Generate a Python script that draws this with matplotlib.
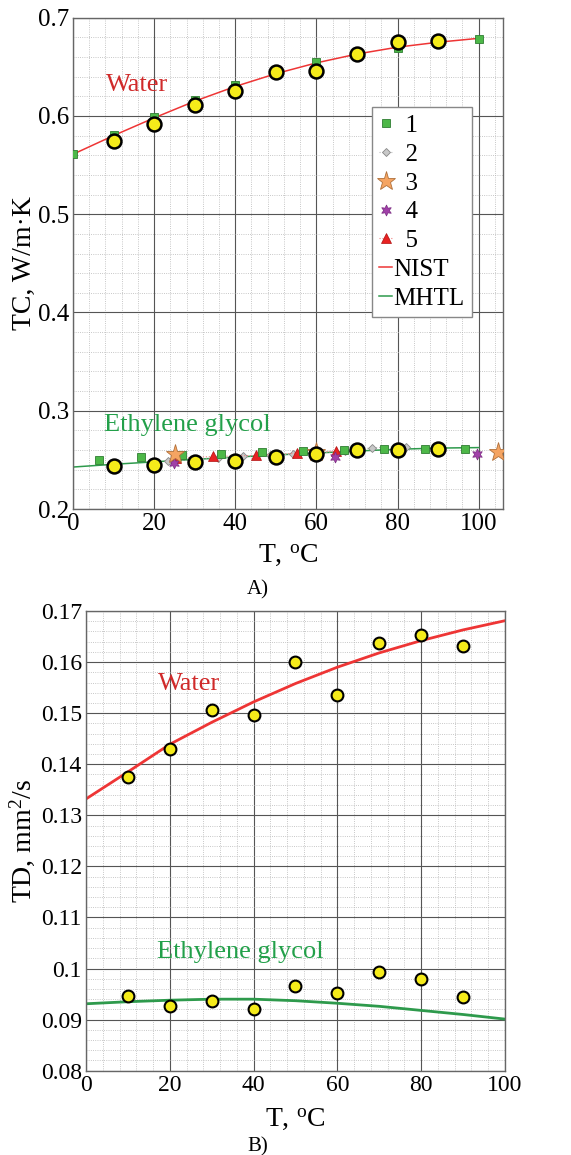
import matplotlib
matplotlib.use("Agg")
import matplotlib.pyplot as plt
from matplotlib.ticker import MultipleLocator, FuncFormatter

plt.rcParams['font.family'] = ['Liberation Serif', 'DejaVu Serif']
plt.rcParams['mathtext.fontset'] = 'custom'
plt.rcParams['mathtext.rm'] = 'Liberation Serif'
plt.rcParams['mathtext.it'] = 'Liberation Serif:italic'

# ---- Panel A: thermal conductivity ----
t_line = [0, 10, 20, 30, 40, 50, 60, 70, 80, 90, 100]
tc_nist_water = [0.561, 0.580, 0.598, 0.615, 0.630, 0.643, 0.654, 0.663, 0.670, 0.675, 0.679]
tc_mhtl_eg = [0.2427, 0.2455, 0.2480, 0.2505, 0.2528, 0.2550, 0.2570, 0.2590, 0.2608, 0.2620, 0.2625]

t_sq_water = [0, 10, 20, 30, 40, 50, 60, 70, 80, 90, 100]
tc_sq_water = [0.561, 0.5807, 0.5987, 0.6163, 0.6315, 0.643, 0.6546, 0.663, 0.6695, 0.675, 0.6783]
t_sq_eg = [6.5, 16.7, 26.8, 36.6, 46.7, 56.6, 66.9, 76.7, 86.7, 96.7]
tc_sq_eg = [0.2502, 0.2528, 0.2545, 0.2558, 0.2579, 0.2589, 0.2596, 0.2606, 0.2609, 0.2609]

t_dia = [23.3, 35.8, 41.8, 48.5, 54.3, 61.0, 67.0, 73.6, 82.0]
tc_dia = [0.2492, 0.2515, 0.2538, 0.2545, 0.2559, 0.2575, 0.2589, 0.2623, 0.2636]

t_star = [25.1, 60.0, 104.8]
tc_star = [0.2562, 0.2585, 0.2582]

t_hex = [24.8, 64.7, 99.6]
tc_hex = [0.2472, 0.2528, 0.2556]

t_tri = [25.5, 34.6, 45.0, 55.3, 64.9]
tc_tri = [0.2515, 0.2535, 0.2545, 0.2569, 0.2589]

t_exp = [10, 20, 30, 40, 50, 60, 70, 80, 90]
tc_exp_water = [0.5746, 0.592, 0.611, 0.6257, 0.6444, 0.6458, 0.6627, 0.6756, 0.6766]
tc_exp_eg = [0.2437, 0.2452, 0.2478, 0.2492, 0.2532, 0.2559, 0.2603, 0.2603, 0.2609]

# ---- Panel B: thermal diffusivity ----
td_nist_water = [0.1332, 0.1385, 0.1439, 0.1482, 0.1522, 0.1558, 0.1590, 0.1618, 0.1642, 0.1663, 0.1681]
td_mhtl_eg = [0.0931, 0.0935, 0.0938, 0.0940, 0.0940, 0.0937, 0.0932, 0.0926, 0.0918, 0.0910, 0.0901]
td_exp_water = [0.1375, 0.1430, 0.1507, 0.1496, 0.1601, 0.1536, 0.1637, 0.1653, 0.1631]
td_exp_eg = [0.0946, 0.0927, 0.0936, 0.0921, 0.0965, 0.0952, 0.0994, 0.0979, 0.0944]

legend_labels = ['  1', '  2', '  3', '  4', '  5', 'NIST', 'MHTL']

red_line = '#ee3535'
green_line = '#2e9a4c'
red_text = '#d02a2a'
green_text = '#23a04a'

fig = plt.figure(figsize=(5.71, 11.55), dpi=100)
ax1 = fig.add_axes([0.1278, 0.5593, 0.7532, 0.4254])
ax2 = fig.add_axes([0.1506, 0.0730, 0.7338, 0.3980])


def style_axes(ax, xmax, ymin, ymax, ymaj, ymin_step):
    ax.set_xlim(0, xmax)
    ax.set_ylim(ymin, ymax)
    ax.xaxis.set_major_locator(MultipleLocator(20))
    ax.xaxis.set_minor_locator(MultipleLocator(4))
    ax.yaxis.set_major_locator(MultipleLocator(ymaj))
    ax.yaxis.set_minor_locator(MultipleLocator(ymin_step))
    ax.grid(which='major', color='#555555', linewidth=0.8, linestyle='-')
    ax.grid(which='minor', color='#b5b5b5', linewidth=0.6, linestyle=':')
    ax.set_axisbelow(True)
    ax.tick_params(which='both', length=0, labelsize=18, pad=3)
    for s in ax.spines.values():
        s.set_color('#666666')
        s.set_linewidth(1.0)


# Panel A
style_axes(ax1, 106, 0.2, 0.7, 0.1, 0.02)
ax1.set_xticks([0, 20, 40, 60, 80, 100])
ax1.yaxis.set_major_formatter(FuncFormatter(lambda v, p: f'{v:.1f}'))

sq_style = dict(marker='s', ms=6, mfc='#4db848', mec='#2f7d32', mew=0.6)
dia_style = dict(ls=':', lw=0.8, color='#bbbbbb', marker='D', ms=4.5,
                 mfc='#c8c8c8', mec='#888888', mew=0.6)
star_style = dict(marker='*', ms=14, mfc='#f5a462', mec='#b0703a', mew=0.6)
hex_style = dict(marker=(6, 1, 0), ms=8, mfc='#a040a8', mec='#7a2a80', mew=0.5)
tri_style = dict(ls=':', lw=0.8, color='#f08080', marker='^', ms=7,
                 mfc='#e82222', mec='#b01010', mew=0.5)
circ_style = dict(ls='none', marker='o', mfc='#f5eb1a', mec='black')

ax1.plot(t_line, tc_nist_water, color=red_line, lw=1.1, zorder=2)
ax1.plot(t_line, tc_mhtl_eg, color=green_line, lw=1.1, zorder=2)
ax1.plot(t_dia, tc_dia, zorder=3, **dia_style)
ax1.plot(t_tri, tc_tri, zorder=3, **tri_style)
ax1.plot(t_hex, tc_hex, ls='none', zorder=3, **hex_style)
ax1.plot(t_sq_water + t_sq_eg, tc_sq_water + tc_sq_eg, ls='none', zorder=4, **sq_style)
ax1.plot(t_star, tc_star, ls='none', zorder=4.5, **star_style)
ax1.plot(t_exp, tc_exp_water, ms=10, mew=1.8, zorder=5, **circ_style)
ax1.plot(t_exp, tc_exp_eg, ms=10, mew=1.8, zorder=5, **circ_style)

# legend proxies
h1, = ax1.plot([], [], ls='none', **sq_style)
h2, = ax1.plot([], [], **dia_style)
h3, = ax1.plot([], [], ls='none', **star_style)
h4, = ax1.plot([], [], ls='none', **hex_style)
h5, = ax1.plot([], [], **tri_style)
h6, = ax1.plot([], [], color=red_line, lw=1.1)
h7, = ax1.plot([], [], color=green_line, lw=1.1)
leg = ax1.legend([h1, h2, h3, h4, h5, h6, h7], legend_labels,
                 loc='upper left', bbox_to_anchor=(0.695, 0.818), fontsize=18,
                 handlelength=0.5, handletextpad=0.05, labelspacing=0.25,
                 borderpad=0.3, borderaxespad=0, fancybox=False, framealpha=1,
                 edgecolor='#888888')
leg.get_frame().set_linewidth(1.0)

ax1.text(8.1, 0.6315, 'Water', color=red_text, fontsize=19, va='center', ha='left')
ax1.text(7.6, 0.2855, 'Ethylene glycol', color=green_text, fontsize=19, va='center', ha='left')
ax1.set_ylabel('TC, W/m·K', fontsize=20)
ax1.yaxis.set_label_coords(-0.085, 0.5)
ax1.set_xlabel('T, $^{\\rm o}$C', fontsize=20)
ax1.xaxis.set_label_coords(0.5, -0.068)
fig.text(0.452, 0.489, 'A)', fontsize=15, ha='center', va='center')

# Panel B
style_axes(ax2, 100, 0.08, 0.17, 0.01, 0.002)
ax2.yaxis.set_major_formatter(FuncFormatter(lambda v, p: f'{v:.3f}'.rstrip('0')))
ax2.tick_params(labelsize=17)
ax2.plot(t_line, td_nist_water, color=red_line, lw=2.0, zorder=2)
ax2.plot(t_line, td_mhtl_eg, color=green_line, lw=2.0, zorder=2)
ax2.plot(t_exp, td_exp_water, ms=8.5, mew=1.5, zorder=5, **circ_style)
ax2.plot(t_exp, td_exp_eg, ms=8.5, mew=1.5, zorder=5, **circ_style)
ax2.text(17.1, 0.1558, 'Water', color=red_text, fontsize=19, va='center', ha='left')
ax2.text(16.9, 0.1032, 'Ethylene glycol', color=green_text, fontsize=19, va='center', ha='left')
ax2.set_ylabel('TD, mm$^2$/s', fontsize=20)
ax2.yaxis.set_label_coords(-0.118, 0.5)
ax2.set_xlabel('T, $^{\\rm o}$C', fontsize=20)
ax2.xaxis.set_label_coords(0.5, -0.078)
fig.text(0.452, 0.007, 'B)', fontsize=15, ha='center', va='center')

fig.savefig('out.png', dpi=100)
